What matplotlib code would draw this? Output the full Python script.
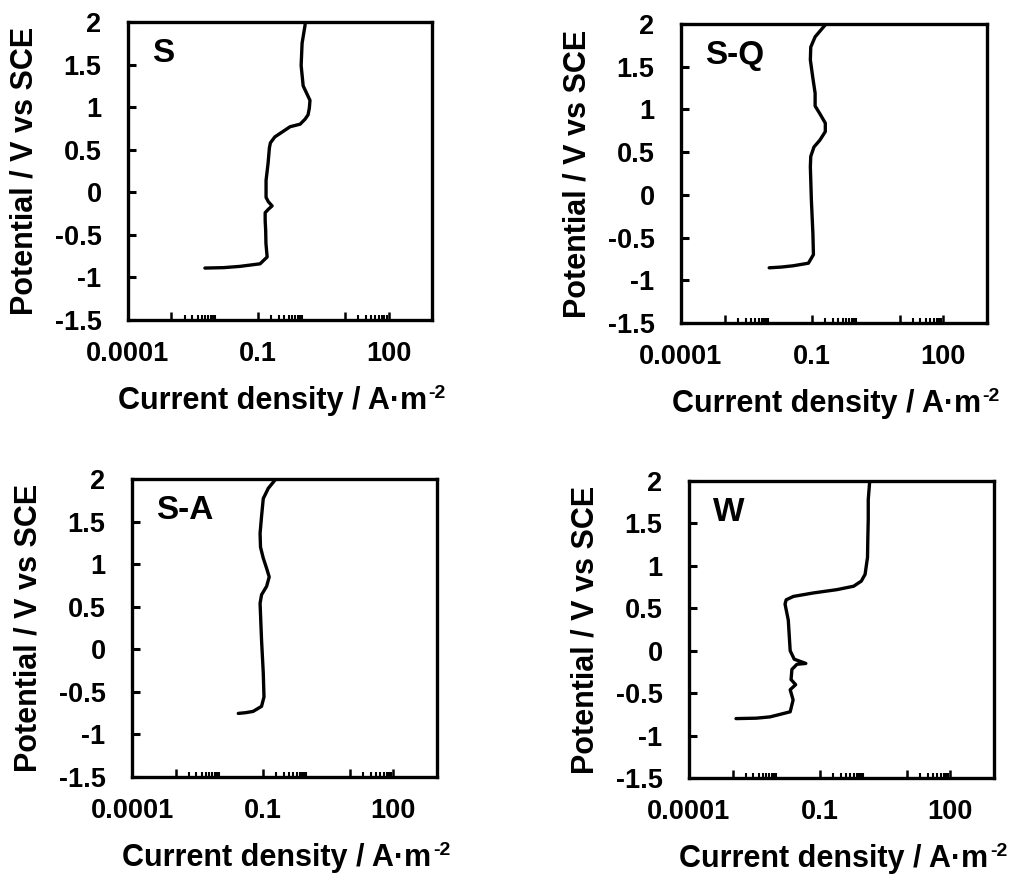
import matplotlib
matplotlib.use("Agg")
import matplotlib.pyplot as plt
from matplotlib.ticker import FixedLocator, FixedFormatter, FuncFormatter

plt.rcParams["font.family"] = ["Liberation Sans", "DejaVu Sans"]
plt.rcParams["font.weight"] = "bold"
plt.rcParams["axes.unicode_minus"] = False

# polarisation curves (potential V vs SCE, current density A/m2)
s_potential = [-0.89, -0.885, -0.87, -0.84, -0.76, -0.60, -0.45, -0.33, -0.24, -0.20,
               -0.16, -0.11, -0.06, 0.14, 0.34, 0.52, 0.58, 0.65, 0.71, 0.77,
               0.80, 0.86, 0.91, 0.99, 1.08, 1.25, 1.49, 1.75, 1.97]
s_current = [0.0059, 0.016, 0.038, 0.11, 0.16, 0.15, 0.148, 0.144, 0.144, 0.17,
             0.208, 0.17, 0.151, 0.151, 0.168, 0.18, 0.19, 0.24, 0.36, 0.54,
             0.92, 1.2, 1.4, 1.5, 1.55, 1.08, 0.97, 1.02, 1.2]

sq_potential = [-0.854, -0.845, -0.83, -0.80, -0.70, -0.45, -0.06, 0.33, 0.45, 0.56,
                0.64, 0.74, 0.84, 0.95, 1.04, 1.19, 1.38, 1.58, 1.73, 1.85, 1.99]
sq_current = [0.0104, 0.02, 0.037, 0.082, 0.107, 0.104, 0.096, 0.091, 0.093, 0.11,
              0.15, 0.20, 0.20, 0.15, 0.117, 0.117, 0.103, 0.091, 0.093, 0.117, 0.20]

sa_potential = [-0.753, -0.745, -0.73, -0.67, -0.56, -0.28, 0.11, 0.54, 0.64, 0.74,
                0.85, 0.95, 1.07, 1.20, 1.36, 1.56, 1.77, 1.89, 2.0]
sa_current = [0.0275, 0.04, 0.060, 0.094, 0.107, 0.103, 0.094, 0.087, 0.094, 0.123,
              0.141, 0.123, 0.103, 0.089, 0.087, 0.094, 0.103, 0.134, 0.20]

w_potential = [-0.80, -0.795, -0.78, -0.72, -0.58, -0.46, -0.40, -0.34, -0.22, -0.16,
               -0.15, -0.10, 0.0, 0.36, 0.55, 0.60, 0.64, 0.68, 0.72, 0.76,
               0.82, 0.90, 1.10, 1.31, 1.55, 1.78, 1.99]
w_current = [0.0012, 0.0035, 0.0072, 0.021, 0.0245, 0.021, 0.028, 0.022, 0.023, 0.03,
             0.048, 0.026, 0.021, 0.019, 0.016, 0.017, 0.025, 0.07, 0.25, 0.6,
             0.9, 1.1, 1.25, 1.27, 1.3, 1.3, 1.4]

panel_names = ["S", "S-Q", "S-A", "W"]
curves = [(s_current, s_potential), (sq_current, sq_potential),
          (sa_current, sa_potential), (w_current, w_potential)]

x_label_ticks = [1e-4, 1e-3, 1e-1, 1e1, 1e2]
x_tick_labels = ["0.0001", "", "0.1", "", "100"]
x_minor_ticks = ([k * 1e-3 for k in range(2, 11)] + [k * 1e-1 for k in range(2, 11)]
                 + [k * 1e1 for k in range(2, 10)])
y_ticks = [-1.5, -1, -0.5, 0, 0.5, 1, 1.5, 2]

W, H = 1012, 875
# axes boxes in pixels: left, right, top, bottom
boxes = [(128, 432, 22, 320), (681, 987, 24, 323), (132, 437, 479, 777), (689, 994, 481, 778)]

fig = plt.figure(figsize=(W / 100, H / 100), dpi=100)

for name, (cur, pot), (l, r, t, b) in zip(panel_names, curves, boxes):
    ax = fig.add_axes([l / W, 1 - b / H, (r - l) / W, (b - t) / H])
    ax.plot(cur, pot, color="black", lw=2.4, solid_joinstyle="round", solid_capstyle="round")
    ax.set_xscale("log")
    ax.set_xlim(1e-4, 1e3)
    ax.set_ylim(-1.5, 2)

    ax.xaxis.set_major_locator(FixedLocator(x_label_ticks))
    ax.xaxis.set_major_formatter(FixedFormatter(x_tick_labels))
    ax.xaxis.set_minor_locator(FixedLocator(x_minor_ticks))
    ax.xaxis.set_minor_formatter(FixedFormatter([""] * len(x_minor_ticks)))
    ax.yaxis.set_major_locator(FixedLocator(y_ticks))
    ax.yaxis.set_major_formatter(FuncFormatter(lambda v, p: "%g" % v))

    ax.tick_params(axis="x", which="major", direction="in", length=5.5, width=1.8,
                   labelsize=19.5, pad=15)
    ax.tick_params(axis="x", which="minor", direction="in", length=3.5, width=1.5)
    ax.tick_params(axis="y", which="major", direction="in", length=6, width=2.2,
                   labelsize=19.5, pad=19)
    for lab in ax.get_xticklabels() + ax.get_yticklabels():
        lab.set_fontweight("bold")

    for sp in ax.spines.values():
        sp.set_linewidth(2.4)

    ax.set_xlabel("Current density / A·m", fontsize=22, fontweight="bold", labelpad=14)
    ax.xaxis.label.set_x(0.475)
    ax.annotate("-2", xy=(1.0, 1.0), xycoords=ax.xaxis.label, xytext=(1, 1),
                textcoords="offset points", fontsize=14, fontweight="bold",
                ha="left", va="top")
    ax.set_ylabel("Potential / V vs SCE", fontsize=22, fontweight="bold", labelpad=11)
    ax.text(0.08, 0.866, name, transform=ax.transAxes, fontsize=24, fontweight="bold",
            ha="left", va="baseline")

fig.savefig("out.png", dpi=100)
